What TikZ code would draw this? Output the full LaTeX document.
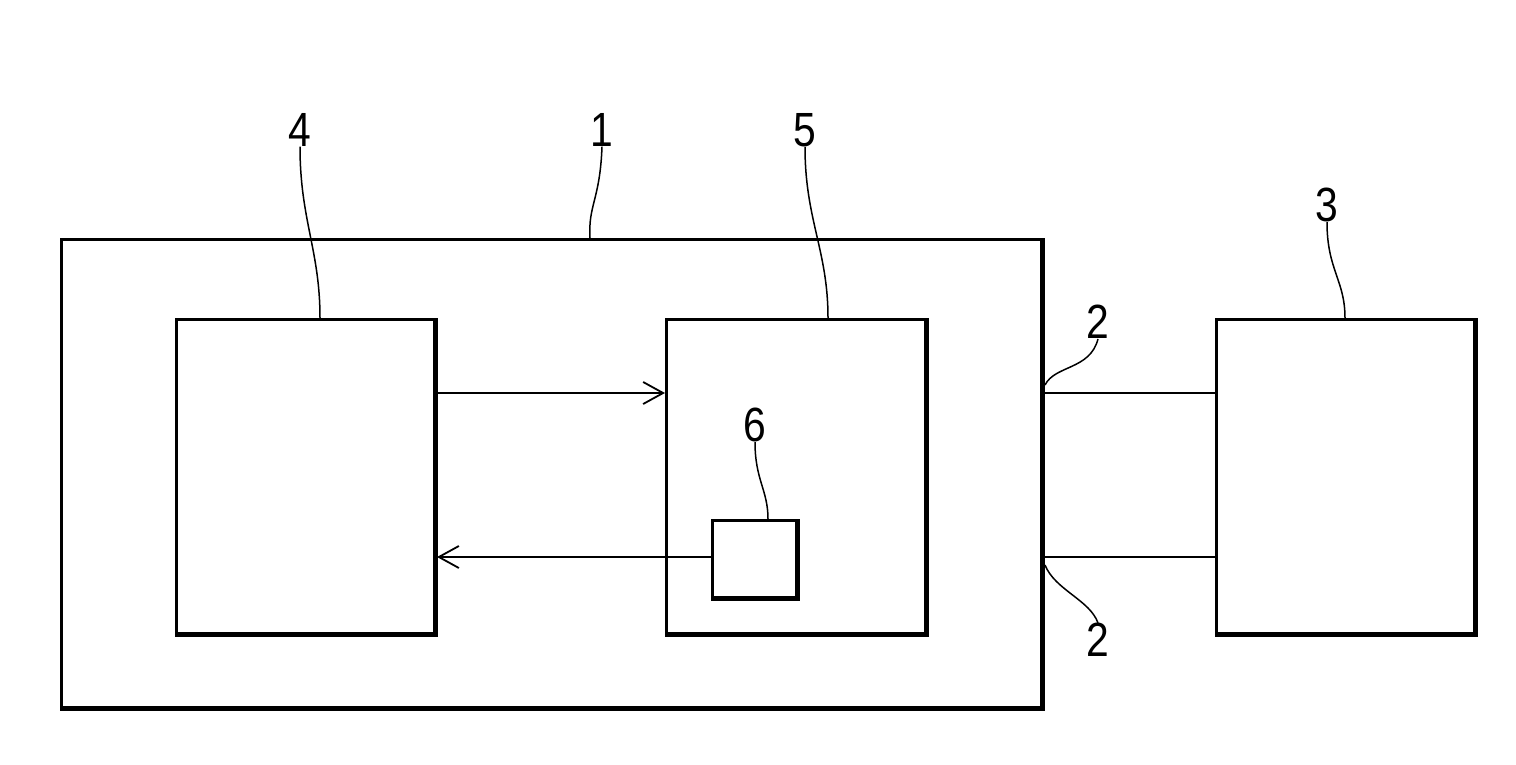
\documentclass[tikz,border=0pt]{standalone}
\usepackage{fontspec}
\setmainfont{Liberation Sans}
\usetikzlibrary{arrows.meta}
\begin{document}
\begin{tikzpicture}[x=1pt,y=-1pt,
  blk/.style={draw,line width=2.5pt},
  lbl/.style={font=\fontsize{48}{52}\selectfont,inner sep=0pt,xscale=0.85},
  ld/.style={line width=1.5pt},
  con/.style={line width=1.8pt},
  arr/.style={con,->,>={Straight Barb[length=20pt,width=22pt,line width=1.8pt]}}]
\useasboundingbox (0,0) rectangle (1516,764);
\newcommand{\shbox}[5]{%
  \node[blk,minimum width=#4-#2,minimum height=#5-#3,anchor=north west,inner sep=0pt] (#1) at (#2,#3) {};
  \draw[line width=5pt] (#2+3,#5) -- (#4,#5) -- (#4,#3+3);}
\shbox{b1}{60}{238}{1042}{708}
\shbox{b4}{175}{318}{435}{634}
\shbox{b5}{665}{318}{926}{634}
\shbox{b6}{711}{519}{797}{598}
\shbox{b3}{1215}{318}{1475}{634}
\coordinate (a1) at (437,393); \coordinate (a2) at (665,393);
\coordinate (c1) at (711,557); \coordinate (c2) at (437,557);
\draw[arr] (a1) -- (a2);
\draw[arr] (c1) -- (c2);
\coordinate (d1) at (1045,393); \coordinate (d2) at (1215,393);
\coordinate (e1) at (1045,557); \coordinate (e2) at (1215,557);
\draw[con] (d1) -- (d2);
\draw[con] (e1) -- (e2);
\node[lbl] (l4) at (300,130) {4};
\node[lbl] (l1) at (602,130) {1};
\node[lbl] (l5) at (805,130) {5};
\node[lbl] (l6) at (755,425) {6};
\node[lbl] (l3) at (1327,205) {3};
\node[lbl] (l2a) at (1098,322) {2};
\node[lbl] (l2b) at (1098,640) {2};
\draw[ld] (l4.south) .. controls (300,220) and (320,250) .. (320,318);
\draw[ld] (l1.south) .. controls (600,200) and (588,205) .. (590,238);
\draw[ld] (l5.south) .. controls (805,220) and (828,250) .. (828,318);
\draw[ld] (l6.south) .. controls (755,480) and (768,490) .. (768,519);
\draw[ld] (l3.south) .. controls (1327,270) and (1345,280) .. (1345,318);
\draw[ld] (l2a.south) .. controls (1090,370) and (1055,365) .. (1045,385);
\draw[ld] (l2b.north) .. controls (1090,600) and (1055,590) .. (1045,565);
\end{tikzpicture}
\end{document}
